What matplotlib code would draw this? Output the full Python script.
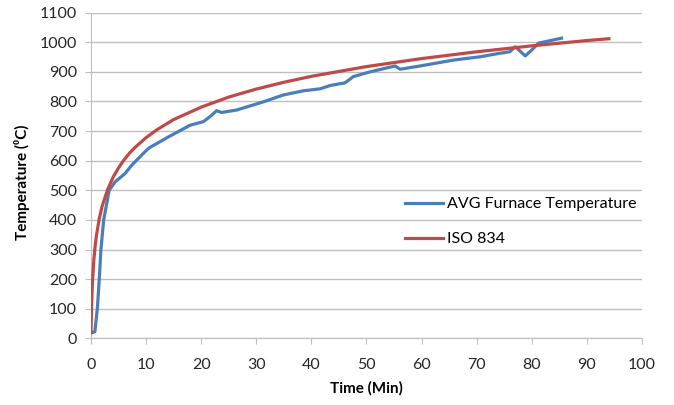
import matplotlib
matplotlib.use('Agg')
import matplotlib.pyplot as plt

plt.rcParams['font.family'] = ['Lato', 'DejaVu Sans']

# AVG furnace temperature
avg_time = [0.2, 0.7, 1.15, 1.5, 1.8, 2.3, 3.3, 4.4, 6.2, 7.4, 10.1, 10.7, 14.3, 18.0,
            20.4, 21.6, 22.8, 23.7, 26.4, 31.3, 34.9, 38.5, 41.6, 43.4, 46.1, 47.6,
            50.6, 55.2, 56.1, 59.7, 65.8, 70.6, 74.2, 76.0, 77.0, 78.8, 80.0, 81.2, 85.4]
avg_temp = [19, 22, 100, 200, 300, 400, 500, 529, 557, 585, 636, 645, 683, 720,
            732, 749, 769, 763, 771, 799, 822, 836, 843, 854, 863, 884,
            900, 920, 909, 920, 940, 951, 963, 968, 985, 954, 974, 997, 1014]

# ISO 834 standard curve
iso_time = [0, 0.1, 0.25, 0.5, 0.75, 1, 1.5, 2, 3, 4, 5, 6, 7, 8, 10, 12, 15, 20, 25,
            30, 35, 40, 50, 60, 70, 80, 90, 94]
iso_temp = [20, 108, 185, 261, 312, 349, 404, 445, 502, 544, 576, 603, 626, 645, 678,
            705, 739, 781, 815, 842, 865, 885, 918, 945, 968, 988, 1006, 1012]

fig = plt.figure(figsize=(6.74, 4.05), dpi=100)
ax = fig.add_axes([91/674, 1-338.3/405, (642-91)/674, (338.3-12.7)/405])

ax.plot(avg_time, avg_temp, color='#4A7EBB', lw=2.3, label='AVG Furnace Temperature', zorder=3)
ax.plot(iso_time, iso_temp, color='#BE4B48', lw=2.3, label='ISO 834', zorder=3)

ax.set_xlim(0, 100)
ax.set_ylim(0, 1100)
ax.set_xticks(range(0, 101, 10))
ax.set_yticks(range(0, 1101, 100))
ax.grid(axis='y', color='#BFBFBF', lw=1.0)
ax.set_axisbelow(True)
for s in ['top', 'right']:
  ax.spines[s].set_visible(False)
for s in ['left', 'bottom']:
  ax.spines[s].set_color('#BFBFBF')
ax.tick_params(axis='both', colors='#BFBFBF', labelcolor='#262626', labelsize=11.5, length=4)
ax.tick_params(axis='x', pad=10)
ax.tick_params(axis='y', pad=6)

ax.set_xlabel('Time (Min)', fontsize=11, fontweight='bold', labelpad=7)
ax.set_ylabel('Temperature (⁰C)', fontsize=11, fontweight='bold')
ax.yaxis.set_label_coords(-0.11, 0.48)

ax.legend(loc='upper left', bbox_to_anchor=(405/674, 1-197/405), bbox_transform=fig.transFigure,
          frameon=False, fontsize=11.5, handlelength=2.4, handletextpad=0.2, labelspacing=1.3,
          borderpad=0, borderaxespad=0)

fig.savefig('out.png', dpi=100)
